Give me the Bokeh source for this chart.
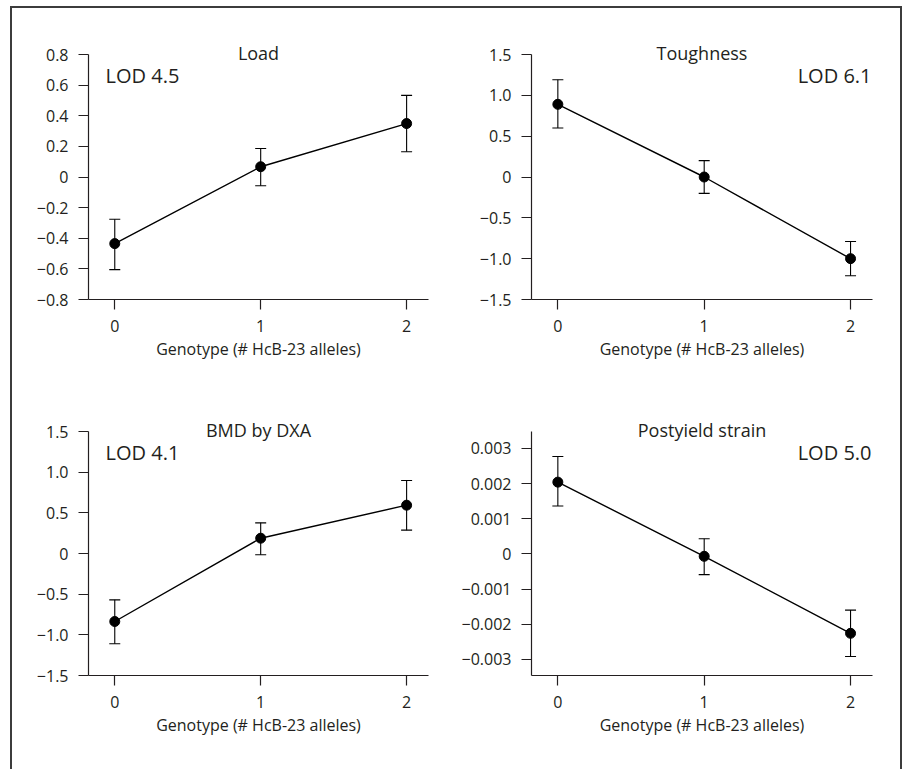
from bokeh.plotting import figure
from bokeh.models import Range1d, FixedTicker, Whisker, TeeHead, ColumnDataSource, Label
from bokeh.layouts import column, row
from bokeh.embed import file_html
from bokeh.resources import INLINE

# ---- data ----
genotype = [0, 1, 2]
x_tick_labels = ["0", "1", "2"]
x_label = "Genotype (# HcB-23 alleles)"

titles = ["Load", "Toughness", "BMD by DXA", "Postyield strain"]
lod_labels = ["LOD 4.5", "LOD 6.1", "LOD 4.1", "LOD 5.0"]

load_mean = [-0.435, 0.067, 0.349]
load_upper = [-0.276, 0.186, 0.533]
load_lower = [-0.605, -0.057, 0.165]

tough_mean = [0.89, 0.0, -1.0]
tough_upper = [1.19, 0.20, -0.79]
tough_lower = [0.60, -0.20, -1.21]

bmd_mean = [-0.836, 0.188, 0.594]
bmd_upper = [-0.57, 0.377, 0.897]
bmd_lower = [-1.11, -0.016, 0.287]

strain_mean = [0.00204, -0.00007, -0.00226]
strain_upper = [0.00277, 0.00043, -0.0016]
strain_lower = [0.00136, -0.00059, -0.00292]

load_ticks = [-0.8, -0.6, -0.4, -0.2, 0, 0.2, 0.4, 0.6, 0.8]
load_tick_labels = ["\u22120.8", "\u22120.6", "\u22120.4", "\u22120.2", "0", "0.2", "0.4", "0.6", "0.8"]
tough_ticks = [-1.5, -1.0, -0.5, 0, 0.5, 1.0, 1.5]
tough_tick_labels = ["\u22121.5", "\u22121.0", "\u22120.5", "0", "0.5", "1.0", "1.5"]
bmd_ticks = [-1.5, -1.0, -0.5, 0, 0.5, 1.0, 1.5]
bmd_tick_labels = ["\u22121.5", "\u22121.0", "\u22120.5", "0", "0.5", "1.0", "1.5"]
strain_ticks = [-0.003, -0.002, -0.001, 0, 0.001, 0.002, 0.003]
strain_tick_labels = ["\u22120.003", "\u22120.002", "\u22120.001", "0", "0.001", "0.002", "0.003"]

FONT = "Open Sans"
INK = "#231f20"
XR = (-0.18, 2.15)


def panel(title, lod, lod_right, mean, upper, lower, ticks, tick_labels, yr,
          width, height, bl, br, bt, bb):
    p = figure(width=width, height=height, output_backend="svg", toolbar_location=None,
               x_range=Range1d(*XR), y_range=Range1d(*yr),
               min_border_left=bl, min_border_right=br, min_border_top=bt, min_border_bottom=bb,
               title=title)
    p.outline_line_color = None
    p.grid.visible = False
    p.background_fill_color = "white"
    p.border_fill_color = "white"

    p.title.align = "center"
    p.title.text_font = FONT
    p.title.text_font_size = "18px"
    p.title.text_font_style = "normal"
    p.title.text_color = INK
    p.title.standoff = -20

    for ax in (p.xaxis[0], p.yaxis[0]):
        ax.axis_line_color = INK
        ax.axis_line_width = 1.2
        ax.major_tick_line_color = INK
        ax.major_tick_line_width = 1.2
        ax.major_tick_out = 10
        ax.major_tick_in = 0
        ax.minor_tick_line_color = None
        ax.major_label_text_font = FONT
        ax.major_label_text_font_size = "16px"
        ax.major_label_text_color = INK

    p.xaxis.ticker = FixedTicker(ticks=genotype)
    p.xaxis.major_label_overrides = {g: s for g, s in zip(genotype, x_tick_labels)}
    p.xaxis.major_label_standoff = 10
    p.xaxis.axis_label = x_label
    p.xaxis.axis_label_text_font = FONT
    p.xaxis.axis_label_text_font_size = "16px"
    p.xaxis.axis_label_text_font_style = "normal"
    p.xaxis.axis_label_text_color = INK
    p.xaxis.axis_label_standoff = 3

    p.yaxis.ticker = FixedTicker(ticks=ticks)
    p.yaxis.major_label_overrides = {t: s for t, s in zip(ticks, tick_labels)}
    p.yaxis.major_label_standoff = 10

    src = ColumnDataSource(dict(x=genotype, y=mean, upper=upper, lower=lower))
    p.add_layout(Whisker(source=src, base="x", upper="upper", lower="lower",
                         dimension="height", line_color="black", line_width=1.1,
                         upper_head=TeeHead(size=11, line_color="black", line_width=1.1),
                         lower_head=TeeHead(size=11, line_color="black", line_width=1.1)))
    p.line("x", "y", source=src, line_color="black", line_width=1.4)
    p.scatter("x", "y", source=src, size=10, fill_color="black", line_color="black")

    if lod_right:
        p.add_layout(Label(x=XR[1], y=yr[1], text=lod, text_align="right", text_baseline="middle",
                           text_font=FONT, text_font_size="20px", text_color=INK,
                           x_offset=-1, y_offset=-21))
    else:
        p.add_layout(Label(x=XR[0], y=yr[1], text=lod, text_align="left", text_baseline="middle",
                           text_font=FONT, text_font_size="20px", text_color=INK,
                           x_offset=17, y_offset=-21))
    return p


p1 = panel(titles[0], lod_labels[0], False, load_mean, load_upper, load_lower,
           load_ticks, load_tick_labels, (-0.8, 0.8), 446, 377, 76, 30, 46, 86)
p2 = panel(titles[1], lod_labels[1], True, tough_mean, tough_upper, tough_lower,
           tough_ticks, tough_tick_labels, (-1.5, 1.5), 442, 377, 73, 28, 46, 86)
p3 = panel(titles[2], lod_labels[2], False, bmd_mean, bmd_upper, bmd_lower,
           bmd_ticks, bmd_tick_labels, (-1.5, 1.5), 446, 370, 76, 30, 46, 80)
p4 = panel(titles[3], lod_labels[3], True, strain_mean, strain_upper, strain_lower,
           strain_ticks, strain_tick_labels, (-0.00346, 0.00348), 442, 370, 73, 28, 46, 80)

layout = column(row(p1, p2), row(p3, p4),
                styles={"border-top": "2px solid #3c3c3c", "border-left": "2px solid #3c3c3c",
                        "border-right": "2px solid #3c3c3c", "margin-left": "10px",
                        "margin-top": "6px", "padding-bottom": "14px"})

open("out.html", "w").write(file_html(layout, INLINE))
